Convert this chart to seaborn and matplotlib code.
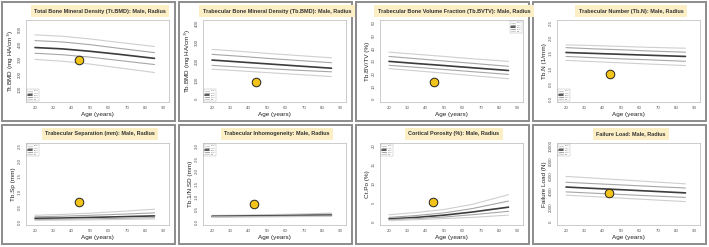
import matplotlib
matplotlib.use("Agg")
import matplotlib.pyplot as plt
import seaborn as sns
import numpy as np
import pandas as pd
from matplotlib.patches import Rectangle

sns.set_theme(style="white")
plt.rcParams['font.family'] = ['Liberation Sans', 'DejaVu Sans']

ages = [20, 35, 50, 65, 85]
pct_labels = ["95th", "75th", "50th", "25th", "5th"]

titles = [
    "Total Bone Mineral Density (Tt.BMD): Male, Radius",
    "Trabecular Bone Mineral Density (Tb.BMD): Male, Radius",
    "Trabecular Bone Volume Fraction (Tb.BVTV): Male, Radius",
    "Trabecular Number (Tb.N): Male, Radius",
    "Trabecular Separation (mm): Male, Radius",
    "Trabecular Inhomogeneity: Male, Radius",
    "Cortical Porosity (%): Male, Radius",
    "Failure Load: Male, Radius",
]
ylabels = [
    "Tt.BMD (mg HA/cm$^3$)",
    "Tb.BMD (mg HA/cm$^3$)",
    "Tb.BV/TV (%)",
    "Tb.N (1/mm)",
    "Tb.Sp (mm)",
    "Tb.1/N.SD (mm)",
    "Ct.Po (%)",
    "Failure Load (N)",
]

# percentile curves (95, 75, 50, 25, 5) at the ages above
tt_bmd = [[461, 452, 434, 412, 384], [423, 414, 396, 373, 343], [377, 368, 352, 333, 305],
          [339, 329, 313, 292, 264], [298, 286, 267, 243, 211]]
tb_bmd = [[261, 251, 240, 230, 217], [235, 225, 214, 204, 191], [205, 195, 185, 175, 162],
          [177, 168, 160, 152, 143], [157, 148, 139, 130, 118]]
tb_bvtv = [[37.0, 35.3, 33.6, 31.8, 29.7], [33.6, 31.8, 30.0, 28.2, 25.8], [29.7, 28.0, 26.4, 24.7, 22.5],
           [26.6, 25.0, 23.3, 21.6, 19.4], [24.0, 22.2, 20.4, 18.5, 16.0]]
tb_n = [[1.78, 1.76, 1.73, 1.70, 1.67], [1.69, 1.65, 1.62, 1.58, 1.54], [1.53, 1.50, 1.47, 1.44, 1.40],
        [1.40, 1.36, 1.32, 1.29, 1.24], [1.27, 1.23, 1.19, 1.15, 1.10]]
tb_sp = [[0.22, 0.25, 0.29, 0.34, 0.42], [0.17, 0.19, 0.22, 0.25, 0.30], [0.12, 0.13, 0.15, 0.17, 0.20],
         [0.08, 0.09, 0.10, 0.12, 0.14], [0.05, 0.06, 0.07, 0.08, 0.10]]
tb_inh = [[0.26, 0.27, 0.29, 0.31, 0.35], [0.24, 0.25, 0.26, 0.28, 0.31], [0.22, 0.23, 0.24, 0.25, 0.27],
          [0.20, 0.21, 0.22, 0.23, 0.24], [0.19, 0.19, 0.20, 0.21, 0.22]]
ct_po = [[1.9, 2.5, 3.3, 4.6, 7.2], [1.2, 1.7, 2.4, 3.5, 5.5], [0.8, 1.2, 1.8, 2.6, 3.9],
         [0.6, 0.9, 1.3, 1.9, 2.8], [0.35, 0.6, 0.9, 1.2, 1.8]]
fail_load = [[6000, 5780, 5550, 5320, 5020], [5230, 5050, 4880, 4700, 4470], [4600, 4420, 4250, 4070, 3830],
             [3960, 3790, 3620, 3450, 3230], [3530, 3340, 3140, 2940, 2680]]

curves = [tt_bmd, tb_bmd, tb_bvtv, tb_n, tb_sp, tb_inh, ct_po, fail_load]

patient_age = [44, 44, 44.4, 43.8, 44, 43, 44, 43.5]
patient_val = [291, 90, 13.4, 0.81, 0.65, 0.70, 5.3, 3830]

yticks = [
    [100, 200, 300, 400, 500],
    [0, 100, 200, 300, 400],
    [0, 10, 20, 30, 40, 50, 60],
    [0.0, 0.5, 1.0, 1.5, 2.0, 2.5],
    [0.0, 0.5, 1.0, 1.5, 2.0, 2.5],
    [0.0, 0.5, 1.0, 1.5, 2.0, 2.5, 3.0],
    [0, 5, 10, 15, 20],
    [0, 2000, 4000, 6000, 8000, 10000],
]
ylims = [(15, 560), (-16, 416), (-2.4, 62.4), (-0.1, 2.6), (-0.1, 2.6), (-0.12, 3.12), (-0.8, 20.8), (-400, 10400)]
legend_locs = ["lower left", "lower left", "upper right", "lower left",
               "upper left", "upper left", "upper left", "upper left"]

W, H = 709, 247
fig = plt.figure(figsize=(W / 100, H / 100), dpi=100)

col_x = [2, 179, 356, 533]
row_y = [2, 125]
pw, ph = 173, 119

line_colors = ["#cfcfcf", "#a6a6a6", "#3c3c3c", "#a6a6a6", "#cfcfcf"]
line_widths = [0.8, 0.8, 1.2, 0.8, 0.8]

for i in range(8):
    r, c = divmod(i, 4)
    x0, y0 = col_x[c], row_y[r]
    fig.patches.append(Rectangle((x0 / W, 1 - (y0 + ph) / H), pw / W, ph / H,
                                 transform=fig.transFigure, fill=False,
                                 edgecolor="#8c8c8c", lw=1.4))
    ax = fig.add_axes([(x0 + 24) / W, 1 - (y0 + 18 + 82) / H, 143 / W, 82 / H])
    for k in range(5):
        sns.lineplot(x=ages, y=curves[i][k], ax=ax, color=line_colors[k],
                     lw=line_widths[k], label=pct_labels[k])
    sns.scatterplot(x=[patient_age[i]], y=[patient_val[i]], ax=ax, s=38,
                    color="#f2c318", edgecolor="#222222", linewidth=0.7, zorder=5)
    ax.set_xlim(15.1, 92.9)
    ax.set_ylim(*ylims[i])
    ax.set_xticks(range(20, 91, 10))
    ax.set_yticks(yticks[i])
    ax.tick_params(axis="both", labelsize=3.2, colors="#555555", length=1.5, width=0.4, pad=1.5)
    for lab in ax.get_yticklabels():
        lab.set_rotation(90)
        lab.set_va("center")
    for s in ax.spines.values():
        s.set_color("#c4c4c4")
        s.set_linewidth(0.6)
    ax.set_xlabel("Age (years)", fontsize=4.6, labelpad=1.5, color="#222222")
    ax.set_ylabel(ylabels[i], fontsize=4.6, labelpad=1.5, color="#222222")
    leg = ax.legend(loc=legend_locs[i], fontsize=1.6, frameon=True, handlelength=2.0,
                    borderpad=0.4, labelspacing=0.3, borderaxespad=0.4, fancybox=False)
    leg.get_frame().set_linewidth(0.3)
    leg.get_frame().set_edgecolor("#999999")
    for t in leg.get_texts():
        t.set_color("#666666")
    fig.text((x0 + 98) / W, 1 - (y0 + 9) / H, titles[i], ha="center", va="center",
             fontsize=3.95, fontweight="bold", color="#333333",
             bbox=dict(boxstyle="square,pad=0.6", facecolor="#fcefc6", edgecolor="none"))

fig.savefig("out.png", dpi=100)
